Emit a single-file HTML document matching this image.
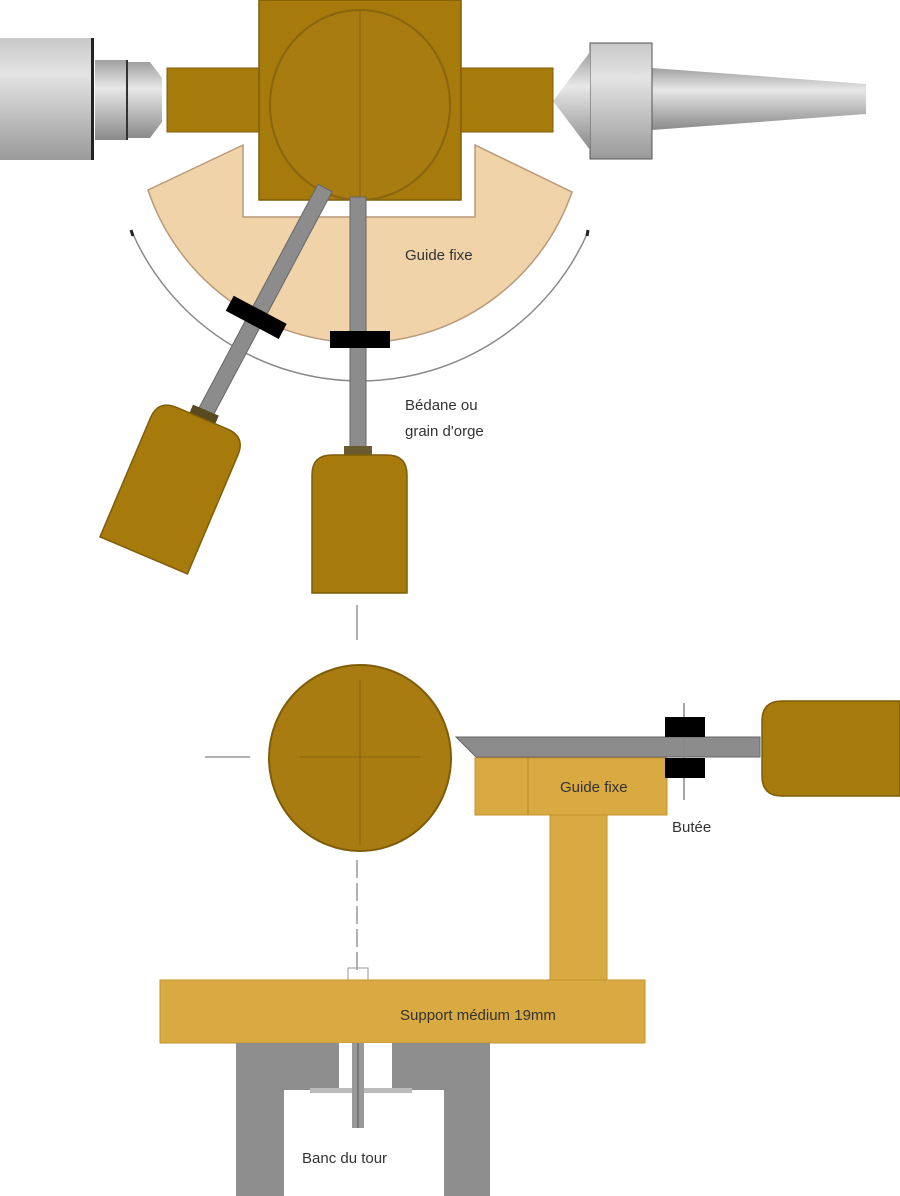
<!DOCTYPE html>
<html><head><meta charset="utf-8"><style>
html,body{margin:0;padding:0;background:#fff;}
svg{display:block;}
text{font-family:"Liberation Sans",sans-serif;fill:#333;}
</style></head><body>
<svg width="900" height="1196" viewBox="0 0 900 1196" xmlns="http://www.w3.org/2000/svg">
<defs>
<linearGradient id="g1" x1="0" y1="0" x2="0" y2="1">
<stop offset="0" stop-color="#c8c8c8"/><stop offset="0.3" stop-color="#e4e4e4"/><stop offset="1" stop-color="#9a9a9a"/>
</linearGradient>
<linearGradient id="g2" x1="0" y1="0" x2="0" y2="1">
<stop offset="0" stop-color="#a0a0a0"/><stop offset="0.35" stop-color="#e8e8e8"/><stop offset="1" stop-color="#8a8a8a"/>
</linearGradient>
</defs>

<!-- headstock -->
<rect x="0" y="38" width="93" height="122" fill="url(#g1)"/>
<rect x="91" y="38" width="3" height="122" fill="#222"/>
<rect x="95" y="60" width="32" height="80" fill="url(#g2)"/>
<rect x="126" y="60" width="2" height="80" fill="#333"/>
<polygon points="128,62 150,62 162,78 162,122 150,138 128,138" fill="url(#g2)"/>

<!-- tailstock -->
<polygon points="652,68 866,84 866,114 652,130" fill="url(#g2)"/>
<rect x="590" y="43" width="62" height="116" fill="url(#g1)" stroke="#555" stroke-width="1"/>
<polygon points="590,52 590,150 553,101" fill="url(#g2)"/>

<!-- guide fixe sector -->
<path d="M148,190 L243,145 L243,217 L475,217 L475,145 L572,192 A224 224 0 0 1 148,190 Z" fill="#f0d3a8" stroke="#b89a78" stroke-width="1.5"/>

<!-- workpiece top -->
<rect x="167" y="68" width="386" height="64" fill="#a77a0c" stroke="#7f5d08" stroke-width="1"/>
<rect x="259" y="0" width="202" height="200" fill="#a77a0c" stroke="#7f5d08" stroke-width="1.5"/>
<ellipse cx="360" cy="105" rx="90" ry="95" fill="#a87c10" stroke="#8a6510" stroke-width="2"/>
<line x1="360" y1="10" x2="360" y2="200" stroke="#8a6510" stroke-width="1"/>

<!-- arc -->
<path d="M132,232 A249 249 0 0 0 588,232" fill="none" stroke="#8a8a8a" stroke-width="1.5"/>
<line x1="131" y1="230" x2="133" y2="236" stroke="#222" stroke-width="3"/>
<line x1="588" y1="230" x2="587" y2="236" stroke="#222" stroke-width="3"/>

<!-- tool 1 vertical -->
<rect x="350" y="197" width="16" height="255" fill="#8c8c8c" stroke="#666" stroke-width="1"/>
<rect x="344" y="446" width="28" height="12" fill="#6a5a30"/>
<path d="M312,593 L312,475 Q312,455 332,455 L387,455 Q407,455 407,475 L407,593 Z" fill="#a77a0c" stroke="#7f5d08" stroke-width="1.5"/>
<rect x="330" y="331" width="60" height="17" fill="#000"/>

<!-- tool 2 angled -->
<g transform="rotate(28 325 188)">
<rect x="317" y="188" width="16" height="258" fill="#8c8c8c" stroke="#666" stroke-width="1"/>
<g transform="rotate(-5 325 450)">
<rect x="311" y="440" width="28" height="12" fill="#5a4a20"/>
<path d="M277,598 L277,469 Q277,449 297,449 L352,449 Q372,449 372,469 L372,598 Z" fill="#a77a0c" stroke="#7f5d08" stroke-width="1.5"/>
</g>
<rect x="295" y="326" width="60" height="17" fill="#000"/>
</g>

<text x="405" y="260" font-size="15">Guide fixe</text>
<text x="405" y="410" font-size="15">Bédane ou</text>
<text x="405" y="436" font-size="15">grain d'orge</text>

<!-- bottom view -->
<line x1="357" y1="605" x2="357" y2="640" stroke="#999" stroke-width="1.5"/>
<line x1="357" y1="860" x2="357" y2="975" stroke="#999" stroke-width="1.5" stroke-dasharray="18,5"/>
<line x1="205" y1="757" x2="250" y2="757" stroke="#999" stroke-width="1.5"/>
<ellipse cx="360" cy="758" rx="91" ry="93" fill="#a87c10" stroke="#7f5d08" stroke-width="2"/>
<line x1="360" y1="680" x2="360" y2="845" stroke="#8a6510" stroke-width="1"/>
<line x1="300" y1="757" x2="420" y2="757" stroke="#8a6510" stroke-width="1"/>

<!-- tool rest blade -->
<polygon points="456,737 760,737 760,757 476,757" fill="#8c8c8c" stroke="#666" stroke-width="1"/>
<!-- guide block -->
<rect x="475" y="758" width="192" height="57" fill="#d9aa42" stroke="#c4922c" stroke-width="1"/>
<line x1="528" y1="758" x2="528" y2="815" stroke="#b8892a" stroke-width="1"/>
<text x="560" y="792" font-size="15">Guide fixe</text>
<rect x="550" y="815" width="57" height="165" fill="#d9aa42" stroke="#c4922c" stroke-width="1"/>
<!-- butee -->
<line x1="684" y1="703" x2="684" y2="800" stroke="#888" stroke-width="1.5"/>
<rect x="665" y="717" width="40" height="20" fill="#000"/>
<rect x="665" y="758" width="40" height="20" fill="#000"/>
<text x="672" y="832" font-size="15">Butée</text>
<!-- right handle -->
<path d="M900,701 L782,701 Q762,701 762,721 L762,776 Q762,796 782,796 L900,796 Z" fill="#a77a0c" stroke="#7f5d08" stroke-width="1.5"/>

<!-- base -->
<rect x="348" y="968" width="20" height="14" fill="none" stroke="#999" stroke-width="1"/>
<rect x="160" y="980" width="485" height="63" fill="#d9aa42" stroke="#c4922c" stroke-width="1"/>
<text x="400" y="1020" font-size="15">Support médium 19mm</text>
<!-- bench -->
<rect x="236" y="1043" width="254" height="153" fill="#8e8e8e"/>
<rect x="284" y="1090" width="160" height="106" fill="#fff"/>
<rect x="339" y="1043" width="53" height="47" fill="#fff"/>
<rect x="310" y="1088" width="102" height="5" fill="#bbb"/>
<rect x="352" y="1043" width="12" height="85" fill="#999"/>
<line x1="358" y1="1043" x2="358" y2="1128" stroke="#555" stroke-width="1"/>
<text x="302" y="1163" font-size="15">Banc du tour</text>
</svg>
</body></html>
